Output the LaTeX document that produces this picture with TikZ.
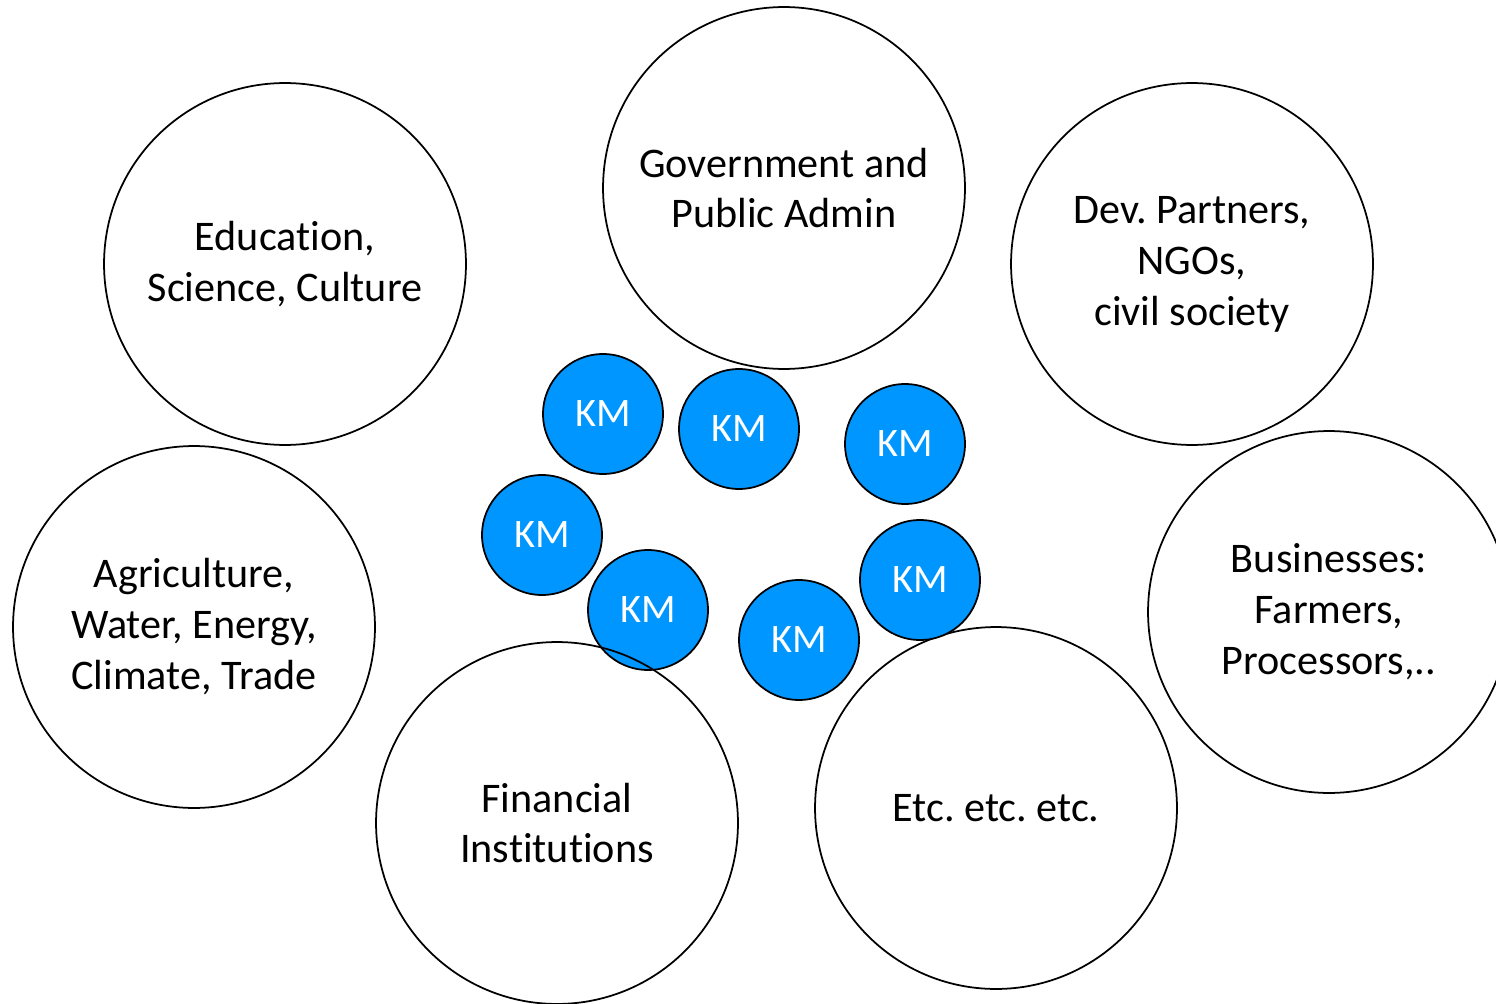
\documentclass[tikz,border=0pt]{standalone}
\usepackage{fontspec}
\setmainfont{Carlito}[Ligatures=NoCommon]
\frenchspacing
\definecolor{kmblue}{RGB}{0,150,255}
\begin{document}
\begin{tikzpicture}[x=0.02cm,y=-0.02cm,
	group/.style={circle, draw=black, line width=1pt, minimum size=7.24cm, inner sep=0pt, align=center, font=\fontsize{24}{29}\selectfont},
	km/.style={circle, draw=black, line width=1pt, fill=kmblue, text=white, minimum size=2.4cm, inner sep=0pt, font=\fontsize{23}{28}\selectfont}]
	
	\useasboundingbox (0,0) rectangle (1496,1003);
	
	%Groups
	\node[group]	(edu)	at (285,264)	{Education,\\Science, Culture};
	\node[group]	(gov)	at (784,188)	{Government and\\Public Admin};
	\node[group]	(dev)	at (1192,264)	{Dev. Partners,\\NGOs,\\civil society};
	\node[group]	(agr)	at (194,627)	{Agriculture,\\Water, Energy,\\Climate, Trade};
	\node[group]	(bus)	at (1329,612)	{Businesses:\\Farmers,\\Processors,..};
	\node[group]	(etc)	at (996,808)	{Etc. etc. etc.};
	
	%KM
	\node[km]	(km1)	at (603,414)	{KM};
	\node[km]	(km2)	at (739,429)	{KM};
	\node[km]	(km3)	at (905,444)	{KM};
	\node[km]	(km4)	at (542,535)	{KM};
	\node[km]	(km5)	at (648,610)	{KM};
	\node[km]	(km6)	at (920,580)	{KM};
	\node[km]	(km7)	at (799,640)	{KM};
	
	\node[group]	(fin)	at (557,823)	{Financial\\Institutions};
\end{tikzpicture}
\end{document}
